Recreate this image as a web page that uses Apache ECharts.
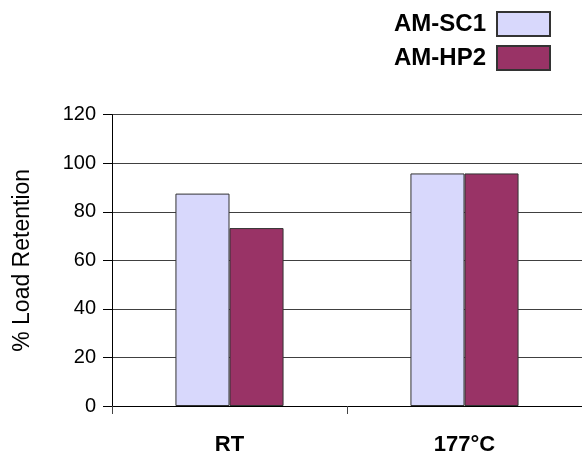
<!DOCTYPE html>
<html>
<head>
<meta charset="utf-8">
<script src="https://cdn.jsdelivr.net/npm/echarts@6/dist/echarts.min.js"></script>
<style>html,body{margin:0;padding:0;background:#fff}#c{width:582px;height:456px}</style>
</head>
<body>
<div id="c"></div>
<script>
const categories = ['RT', '177°C'];
const seriesNames = ['AM-SC1', 'AM-HP2'];
const sc1Values = [87.5, 95.8];
const hp2Values = [73.3, 95.8];
const yTicks = [0, 20, 40, 60, 80, 100, 120];

const chart = echarts.init(document.getElementById('c'), null, {renderer: 'canvas'});
chart.setOption({
  animation: false,
  backgroundColor: '#fff',
  textStyle: {fontFamily: 'Liberation Sans, Arial, sans-serif'},
  legend: {
    orient: 'vertical',
    right: 26,
    top: 6,
    align: 'right',
    itemWidth: 53,
    itemHeight: 24,
    itemGap: 8,
    icon: 'rect',
    textStyle: {fontSize: 24, fontWeight: 'bold', color: '#000', padding: [0, 6, 0, 0]},
    data: seriesNames
  },
  grid: {left: 112, right: -1, top: 114.7, bottom: 47, containLabel: false},
  xAxis: {
    type: 'category',
    data: categories,
    axisLine: {lineStyle: {color: '#000', width: 1}},
    axisTick: {show: true, length: 8, lineStyle: {color: '#444'}},
    axisLabel: {fontSize: 22, fontWeight: 'bold', color: '#000', margin: 28}
  },
  yAxis: {
    type: 'value',
    min: yTicks[0],
    max: yTicks[yTicks.length - 1],
    interval: 20,
    name: '% Load Retention',
    nameLocation: 'middle',
    nameGap: 78,
    nameTextStyle: {fontSize: 23, fontWeight: 'normal', color: '#000'},
    axisLine: {show: true, lineStyle: {color: '#000', width: 1}},
    axisTick: {show: true, length: 9, lineStyle: {color: '#000'}},
    axisLabel: {fontSize: 20, color: '#000', margin: 16},
    splitLine: {show: true, lineStyle: {color: '#404040', width: 1}}
  },
  series: [
    {
      name: seriesNames[0],
      type: 'bar',
      data: sc1Values,
      barGap: '0%',
      barCategoryGap: '54%',
      itemStyle: {color: '#D8D8FC', borderColor: '#333', borderWidth: 1}
    },
    {
      name: seriesNames[1],
      type: 'bar',
      data: hp2Values,
      barGap: '0%',
      barCategoryGap: '54%',
      itemStyle: {color: '#993366', borderColor: '#333', borderWidth: 1}
    }
  ]
});
</script>
</body>
</html>
